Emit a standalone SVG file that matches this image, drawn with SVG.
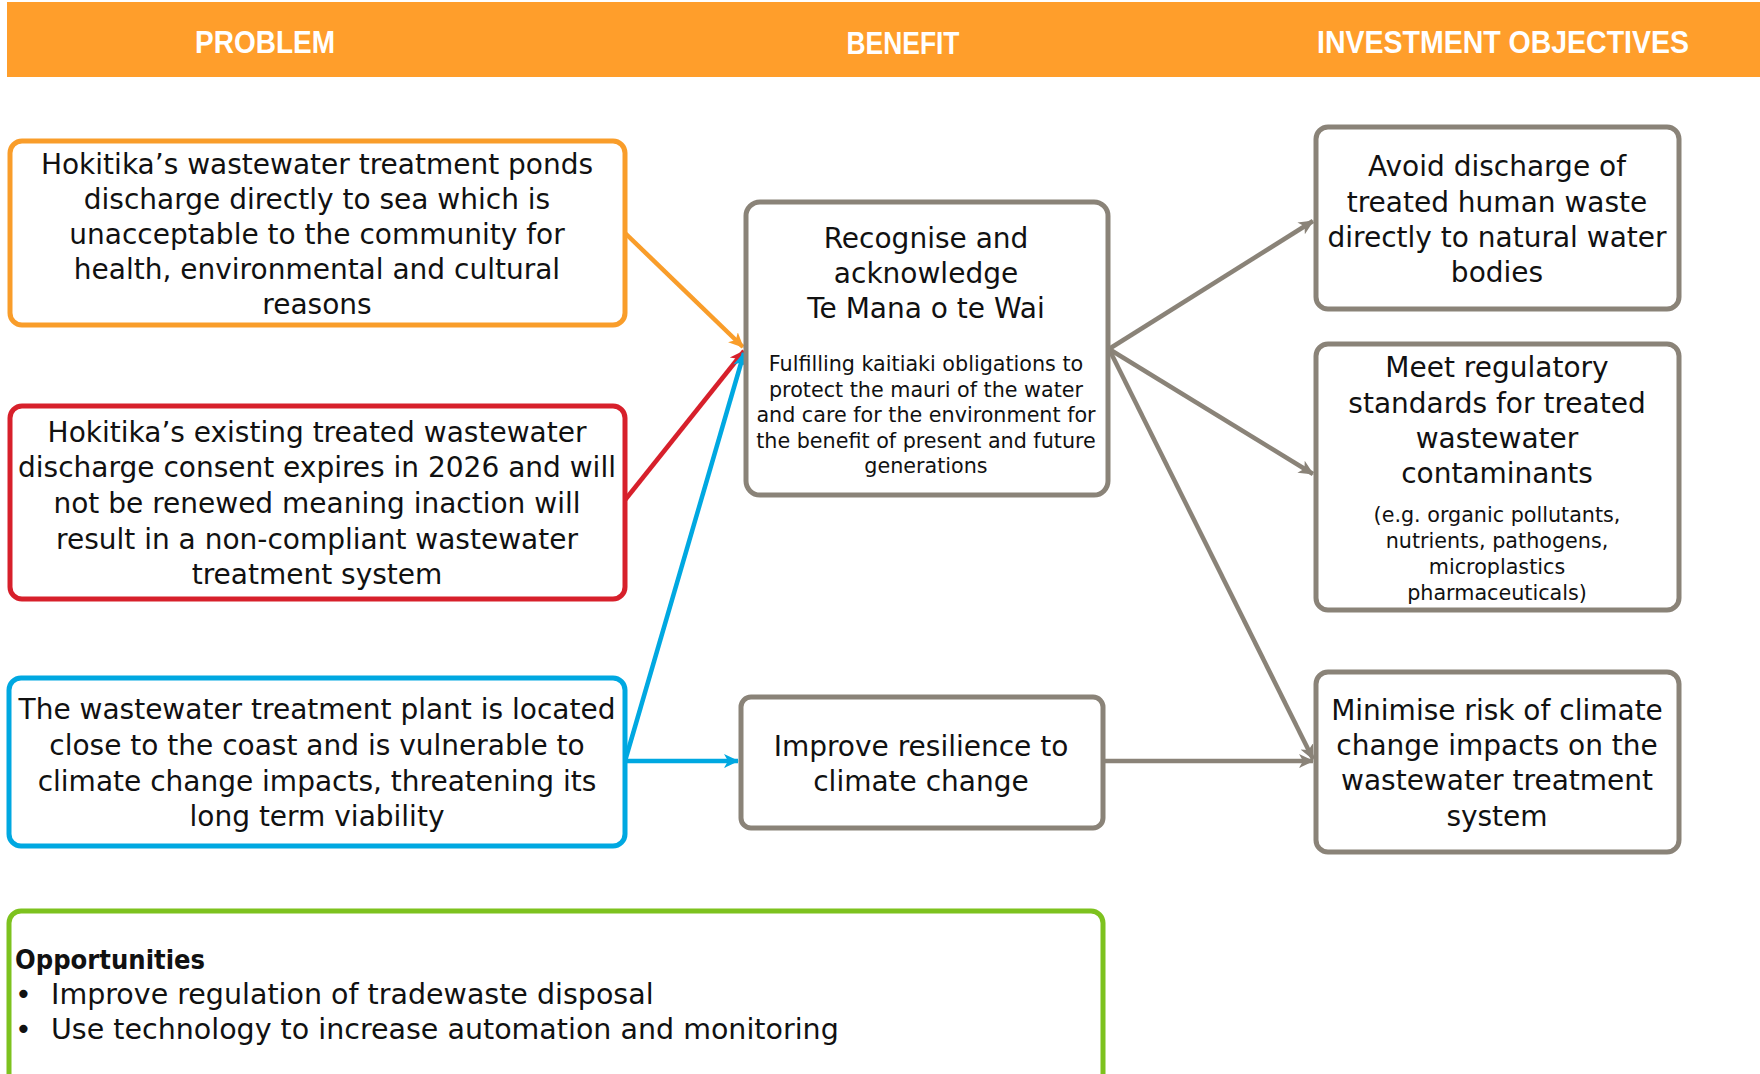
<svg xmlns="http://www.w3.org/2000/svg" width="1760" height="1074" viewBox="0 0 1760 1074">
<style>
.hdr{font-family:"Liberation Sans",Arial,sans-serif;font-weight:bold;font-size:32px;fill:#ffffff;text-anchor:middle}
.t{font-family:"DejaVu Sans","Noto Sans",sans-serif;font-size:28px;fill:#111111;text-anchor:middle}
.s{font-family:"DejaVu Sans","Noto Sans",sans-serif;font-size:20.7px;fill:#111111;text-anchor:middle}
.o{font-family:"DejaVu Sans","Noto Sans",sans-serif;font-size:28.5px;fill:#111111}
.box{fill:#ffffff;stroke-width:5}
.conn{fill:none;stroke-width:4.5}
</style>
<defs>
<marker id="aO" markerUnits="userSpaceOnUse" markerWidth="20" markerHeight="20" refX="14" refY="8" orient="auto"><path d="M0,1 L15,8 L0,15 L4,8 Z" fill="#F99D2A"/></marker>
<marker id="aR" markerUnits="userSpaceOnUse" markerWidth="20" markerHeight="20" refX="14" refY="8" orient="auto"><path d="M0,1 L15,8 L0,15 L4,8 Z" fill="#D7202B"/></marker>
<marker id="aB" markerUnits="userSpaceOnUse" markerWidth="20" markerHeight="20" refX="14" refY="8" orient="auto"><path d="M0,1 L15,8 L0,15 L4,8 Z" fill="#00A8E1"/></marker>
<marker id="aG" markerUnits="userSpaceOnUse" markerWidth="20" markerHeight="20" refX="14" refY="8" orient="auto"><path d="M0,1 L15,8 L0,15 L4,8 Z" fill="#8A8378"/></marker>
</defs>
<rect width="1760" height="1074" fill="#ffffff"/>
<g id="header">
<rect x="7" y="2" width="1753" height="75" fill="#FF9E2B"/>
<text class="hdr" x="265" y="53" textLength="140" lengthAdjust="spacingAndGlyphs">PROBLEM</text>
<text class="hdr" x="903" y="54" textLength="113" lengthAdjust="spacingAndGlyphs">BENEFIT</text>
<text class="hdr" x="1503" y="53" textLength="372" lengthAdjust="spacingAndGlyphs">INVESTMENT OBJECTIVES</text>
</g>
<g id="connectors">
<line class="conn" x1="625" y1="233" x2="743" y2="347" stroke="#F99D2A" stroke-width="3.5" marker-end="url(#aO)"/>
<line class="conn" x1="625" y1="500" x2="744" y2="351" stroke="#D7202B" marker-end="url(#aR)"/>
<line class="conn" x1="625" y1="761" x2="744" y2="353" stroke="#00A8E1" marker-end="url(#aB)"/>
<line class="conn" x1="625" y1="761" x2="738" y2="761" stroke="#00A8E1" marker-end="url(#aB)"/>
<line class="conn" x1="1109" y1="349" x2="1313" y2="221" stroke="#8A8378" marker-end="url(#aG)"/>
<line class="conn" x1="1109" y1="349" x2="1313" y2="474" stroke="#8A8378" marker-end="url(#aG)"/>
<line class="conn" x1="1109" y1="349" x2="1313" y2="759" stroke="#8A8378" marker-end="url(#aG)"/>
<line class="conn" x1="1103" y1="761" x2="1313" y2="761" stroke="#8A8378" marker-end="url(#aG)"/>
</g>
<g id="problem1">
<rect class="box" x="10" y="141" width="615" height="184" rx="12" stroke="#F99D2A"/>
<text class="t" x="317" y="174">Hokitika’s wastewater treatment ponds</text>
<text class="t" x="317" y="209">discharge directly to sea which is</text>
<text class="t" x="317" y="244">unacceptable to the community for</text>
<text class="t" x="317" y="279">health, environmental and cultural</text>
<text class="t" x="317" y="314">reasons</text>
</g>
<g id="problem2">
<rect class="box" x="10" y="406" width="615" height="193" rx="12" stroke="#D7202B"/>
<text class="t" x="317" y="442">Hokitika’s existing treated wastewater</text>
<text class="t" x="317" y="477">discharge consent expires in 2026 and will</text>
<text class="t" x="317" y="513">not be renewed meaning inaction will</text>
<text class="t" x="317" y="549">result in a non-compliant wastewater</text>
<text class="t" x="317" y="584">treatment system</text>
</g>
<g id="problem3">
<rect class="box" x="9" y="678" width="616" height="168" rx="12" stroke="#00A8E1"/>
<text class="t" x="317" y="719">The wastewater treatment plant is located</text>
<text class="t" x="317" y="755">close to the coast and is vulnerable to</text>
<text class="t" x="317" y="791">climate change impacts, threatening its</text>
<text class="t" x="317" y="826">long term viability</text>
</g>
<g id="opportunities">
<rect class="box" x="9" y="911" width="1094" height="175" rx="12" stroke="#7DC21E"/>
<text x="15" y="969" font-family="DejaVu Sans,sans-serif" font-weight="bold" font-size="26" fill="#111111" textLength="190" lengthAdjust="spacingAndGlyphs">Opportunities</text>
<text class="o" x="15" y="1004">•</text>
<text class="o" x="51" y="1004">Improve regulation of tradewaste disposal</text>
<text class="o" x="15" y="1039">•</text>
<text class="o" x="51" y="1039">Use technology to increase automation and monitoring</text>
</g>
<g id="benefit1">
<rect class="box" x="746" y="202" width="362" height="293" rx="14" stroke="#8A8378"/>
<text class="t" x="926" y="248">Recognise and</text>
<text class="t" x="926" y="283">acknowledge</text>
<text class="t" x="926" y="318">Te Mana o te Wai</text>
<text class="s" x="926" y="371">Fulfilling kaitiaki obligations to</text>
<text class="s" x="926" y="397">protect the mauri of the water</text>
<text class="s" x="926" y="422">and care for the environment for</text>
<text class="s" x="926" y="448">the benefit of present and future</text>
<text class="s" x="926" y="473">generations</text>
</g>
<g id="benefit2">
<rect class="box" x="741" y="697" width="362" height="131" rx="10" stroke="#8A8378"/>
<text class="t" x="921" y="756">Improve resilience to</text>
<text class="t" x="921" y="791">climate change</text>
</g>
<g id="objective1">
<rect class="box" x="1316" y="127" width="363" height="182" rx="12" stroke="#8A8378"/>
<text class="t" x="1497" y="176">Avoid discharge of</text>
<text class="t" x="1497" y="212">treated human waste</text>
<text class="t" x="1497" y="247">directly to natural water</text>
<text class="t" x="1497" y="282">bodies</text>
</g>
<g id="objective2">
<rect class="box" x="1316" y="344" width="363" height="266" rx="12" stroke="#8A8378"/>
<text class="t" x="1497" y="377">Meet regulatory</text>
<text class="t" x="1497" y="413">standards for treated</text>
<text class="t" x="1497" y="448">wastewater</text>
<text class="t" x="1497" y="483">contaminants</text>
<text class="s" x="1497" y="522">(e.g. organic pollutants,</text>
<text class="s" x="1497" y="548">nutrients, pathogens,</text>
<text class="s" x="1497" y="574">microplastics</text>
<text class="s" x="1497" y="600">pharmaceuticals)</text>
</g>
<g id="objective3">
<rect class="box" x="1316" y="672" width="363" height="180" rx="12" stroke="#8A8378"/>
<text class="t" x="1497" y="720">Minimise risk of climate</text>
<text class="t" x="1497" y="755">change impacts on the</text>
<text class="t" x="1497" y="790">wastewater treatment</text>
<text class="t" x="1497" y="826">system</text>
</g>
</svg>
